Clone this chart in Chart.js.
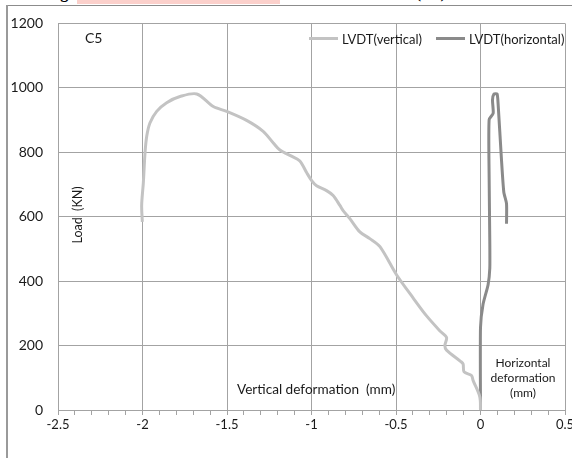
<!DOCTYPE html>
<html>
<head>
<meta charset="utf-8">
<script src="https://cdn.jsdelivr.net/npm/chart.js@4.4.1/dist/chart.umd.min.js"></script>
<style>
  body { margin: 0; background: #fff; overflow: hidden; width: 572px; height: 458px; position: relative; font-family: Lato, sans-serif; color: #1a1a1a; }
  #wrap { position: absolute; left: 0; top: 0; width: 600px; height: 458px; }
  .note { position: absolute; white-space: nowrap; line-height: 1; }
  .frame-top { position: absolute; left: 6px; top: 5px; width: 570px; height: 1px; background: #8c8c8c; }
  .frame-left { position: absolute; left: 6px; top: 5px; width: 2px; height: 460px; background: #9a9a9a; }
  .mark { position: absolute; left: 77px; top: 0; width: 203px; height: 4px; background: #fbd0cb; }
  #docTitle { position: absolute; left: 46px; top: -16px; font: bold 16px "Liberation Serif", serif; white-space: nowrap; color: #000; }
  #legend .item { position: absolute; top: 31px; font-size: 13px; }
  #legend .swatch { position: absolute; top: 6px; height: 3px; width: 29px; }
  #legend .label { position: absolute; top: 0; white-space: nowrap; }
</style>
</head>
<body>
<div class="mark"></div>
<div id="docTitle">Figure 9: Load vs sub deformation relation of column (C5)</div>
<div class="frame-top"></div>
<div class="frame-left"></div>
<div id="wrap"><canvas id="myChart" width="600" height="458"></canvas></div>
<div class="note" style="left:85px; top:31px; font-size:14px;">C5</div>
<div class="note" style="left:78px; top:215px; font-size:12.5px; transform: translate(-50%,-50%) rotate(-90deg); transform-origin: 50% 50%;">Load&nbsp; (KN)</div>
<div class="note" style="left:237px; top:383px; font-size:13.6px;">Vertical deformation&nbsp; (mm)</div>
<div class="note" style="left:523px; top:355px; font-size:12px; line-height:15px; text-align:center; transform: translateX(-50%);">Horizontal<br>deformation<br>(mm)</div>
<div id="legend"></div>
<script>
// load (kN) against LVDT reading (mm)
const verticalDef = [0, -0.004, -0.044, -0.053, -0.097, -0.103, -0.118, -0.201, -0.211, -0.201, -0.241, -0.319, -0.399,
  -0.497, -0.595, -0.655, -0.714, -0.773, -0.813, -0.832, -0.872, -0.911, -0.970, -0.999, -1.029, -1.069, -1.118,
  -1.187, -1.226, -1.286, -1.384, -1.502, -1.581, -1.679, -1.778, -1.857, -1.916, -1.956, -1.975, -1.985, -1.995,
  -2.005, -2.001];
const verticalLoad = [0, 41, 92, 107, 118, 143, 151, 186, 200, 225, 246, 292, 348,
  420, 507, 532, 553, 594, 619, 635, 666, 681, 696, 712, 737, 773, 788,
  807, 829, 865, 899, 927, 942, 981, 973, 954, 927, 891, 850, 799, 706,
  635, 584];

const horizontalDef = [0, 0, 0.015, 0.045, 0.055, 0.055, 0.051, 0.051, 0.075, 0.071, 0.080, 0.098, 0.104, 0.124, 0.138, 0.154, 0.154];
const horizontalLoad = [0, 256, 328, 389, 440, 522, 727, 901, 921, 962, 981, 981, 952, 778, 676, 640, 578];

const seriesNames = ['LVDT(vertical)', 'LVDT(horizontal)'];
const seriesColors = ['#c3c3c3', '#8a8a8a'];

const X_MIN = -2.5, X_MAX = 0.5, X_MINOR = 0.1, X_MAJOR = 0.5;
const Y_MIN = 0, Y_MAX = 1200, Y_STEP = 200;

const GRID_COLOR = '#a3a3a3';

function toPoints(xs, ys) {
  return xs.map((x, i) => ({ x: x, y: ys[i] }));
}

function isMajor(v) {
  return Math.abs(v / X_MAJOR - Math.round(v / X_MAJOR)) < 1e-6;
}

const ctx = document.getElementById('myChart');

const chart = new Chart(ctx, {
  type: 'scatter',
  data: {
    datasets: [{
      label: seriesNames[0],
      data: toPoints(verticalDef, verticalLoad),
      borderColor: seriesColors[0],
      borderWidth: 3,
      showLine: true,
      pointRadius: 0,
      tension: 0.3
    }, {
      label: seriesNames[1],
      data: toPoints(horizontalDef, horizontalLoad),
      borderColor: seriesColors[1],
      borderWidth: 3,
      showLine: true,
      pointRadius: 0,
      tension: 0.2
    }]
  },
  options: {
    responsive: false,
    animation: false,
    layout: { padding: { left: 0, top: 19, right: 35, bottom: 0 } },
    plugins: { legend: { display: false }, tooltip: { enabled: false } },
    scales: {
      x: {
        type: 'linear',
        min: X_MIN,
        max: X_MAX,
        afterFit: (s) => { s.height = 48; },
        ticks: {
          stepSize: X_MINOR,
          autoSkip: false,
          maxRotation: 0,
          padding: 2,
          color: '#1a1a1a',
          font: { family: 'Lato', size: 13 },
          callback: (v) => isMajor(v) ? String(Math.round(v * 10) / 10) : ''
        },
        grid: {
          color: (c) => isMajor(c.tick.value) ? GRID_COLOR : 'rgba(0,0,0,0)',
          tickColor: GRID_COLOR,
          tickLength: 5,
          lineWidth: 1
        },
        border: { color: GRID_COLOR }
      },
      y: {
        min: Y_MIN,
        max: Y_MAX,
        afterFit: (s) => { s.width = 58; },
        ticks: {
          stepSize: Y_STEP,
          padding: 15,
          color: '#1a1a1a',
          font: { family: 'Lato', size: 14 },
          callback: (v) => String(v)
        },
        grid: { color: GRID_COLOR, drawTicks: false, lineWidth: 1 },
        border: { color: GRID_COLOR }
      }
    }
  }
});

// legend built from the datasets, placed inside the plot area
const legendLeft = [309, 436];
const legendDiv = document.getElementById('legend');
chart.data.datasets.forEach((ds, i) => {
  const item = document.createElement('div');
  item.className = 'item';
  item.style.left = legendLeft[i] + 'px';
  const sw = document.createElement('div');
  sw.className = 'swatch';
  sw.style.background = ds.borderColor;
  const lab = document.createElement('div');
  lab.className = 'label';
  lab.style.left = '33px';
  lab.textContent = ds.label;
  item.appendChild(sw);
  item.appendChild(lab);
  legendDiv.appendChild(item);
});
</script>
</body>
</html>
